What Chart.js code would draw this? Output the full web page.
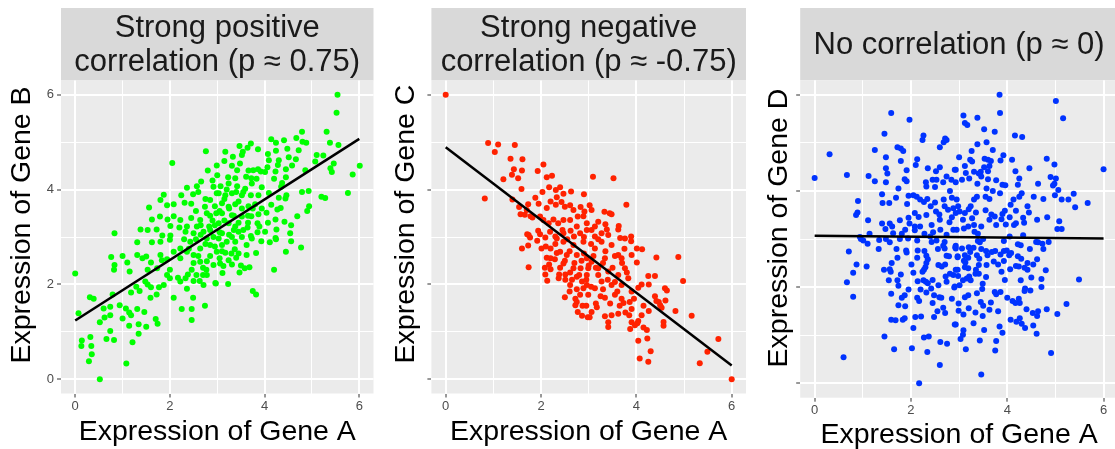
<!DOCTYPE html>
<html>
<head>
<meta charset="utf-8">
<script src="https://cdn.jsdelivr.net/npm/chart.js@4.4.0/dist/chart.umd.min.js"></script>
<style>
  html, body { margin: 0; background: #fff; overflow: hidden; }
  body { width: 1115px; height: 449px; position: relative; }
  canvas { position: absolute; top: 0; }
</style>
</head>
<body>
<canvas id="chart-positive" width="380" height="449" style="left:0px"></canvas>
<canvas id="chart-negative" width="370" height="449" style="left:380px"></canvas>
<canvas id="chart-none" width="370" height="449" style="left:752px"></canvas>
<script>
// values
const axisTicks = [0, 1, 2, 3, 4, 5, 6];
const fitX = [0, 6];
const fitB = [1.24, 5.07];
const fitC = [4.89, 0.29];
const fitD = [3.07, 3.01];

const positivePoints = [
  [2.76,4.81],[2.05,4.56],[2.99,4.51],[2.36,4.04],[2.57,4.07],[2.66,4.17],[2.90,4.19],[1.87,3.89],[1.80,3.78],[1.56,3.62],
  [1.94,3.67],[2.08,3.69],[2.24,3.88],[2.49,3.90],[2.31,3.72],[1.62,3.37],[1.79,3.43],[1.95,3.37],[2.08,3.44],[2.22,3.36],
  [1.38,3.16],[1.53,3.15],[1.72,3.16],[2.01,3.23],[0.83,3.08],[1.84,3.03],[2.01,3.03],[2.36,3.22],[2.64,3.36],[2.78,3.50],
  [2.74,3.64],[2.98,3.50],[2.85,3.78],[2.99,3.92],[2.92,4.06],[2.83,3.22],[2.50,3.08],[2.33,3.11],[2.57,3.22],[2.71,3.11],
  [2.92,3.00],[5.54,6.00],[5.52,5.62],[6.01,4.50],[5.86,4.32],[5.76,3.93],[4.79,5.22],[5.31,5.22],[5.38,4.99],[5.56,4.94],
  [4.67,5.09],[4.80,5.01],[4.88,4.99],[4.41,5.04],[4.24,4.99],[4.14,5.06],[3.71,4.97],[3.47,4.92],[3.17,4.80],[3.64,4.88],
  [3.54,4.80],[3.86,4.85],[4.07,4.75],[4.24,4.82],[4.48,4.86],[4.72,4.83],[5.10,4.73],[5.24,4.72],[5.07,4.59],[5.46,4.55],
  [5.39,4.45],[5.42,4.37],[4.86,4.41],[4.66,4.64],[4.51,4.68],[4.58,4.51],[4.45,4.43],[4.28,4.52],[4.30,4.62],[4.09,4.62],
  [4.06,4.47],[4.23,4.38],[4.45,4.26],[4.20,4.23],[4.37,4.14],[4.35,4.06],[4.46,3.88],[4.79,3.95],[4.93,3.97],[5.20,3.85],
  [5.28,3.82],[4.94,3.65],[4.90,3.55],[4.69,3.44],[4.56,3.25],[4.42,3.32],[4.23,3.37],[4.27,3.58],[4.34,3.61],[4.30,3.83],
  [4.44,3.81],[4.14,3.68],[4.04,3.51],[3.87,3.48],[3.72,3.44],[3.85,3.29],[3.89,3.22],[4.07,3.30],[4.01,3.11],[4.25,3.16],
  [4.54,3.08],[4.23,2.98],[3.64,3.20],[3.45,3.11],[3.71,3.02],[3.31,4.50],[3.42,4.41],[3.23,4.26],[3.38,4.24],[3.48,4.55],
  [3.52,4.73],[3.33,4.69],[3.66,4.40],[3.76,4.41],[3.86,4.43],[3.92,4.38],[4.01,4.37],[3.61,4.27],[3.72,4.24],[3.83,4.23],
  [3.07,4.07],[3.24,4.13],[3.42,4.07],[3.59,4.02],[3.73,4.13],[3.94,4.05],[3.87,3.88],[3.71,3.88],[3.52,3.88],[3.31,3.92],
  [3.17,3.88],[3.03,3.92],[4.09,3.93],[3.10,3.71],[3.24,3.64],[3.38,3.69],[3.52,3.60],[3.66,3.65],[3.80,3.69],[3.94,3.60],
  [3.10,3.50],[3.31,3.46],[3.52,3.43],[3.03,3.29],[3.24,3.29],[3.38,3.22],[3.10,3.08],[3.31,3.00],[3.52,3.00],
  [0.00,2.23],[0.07,1.39],[0.14,0.82],[0.13,0.70],[0.32,0.89],[0.34,0.70],[0.35,0.53],[0.29,0.38],[0.52,0.00],[1.08,0.33],
  [0.31,1.73],[0.39,1.70],[0.52,1.20],[0.62,1.30],[0.60,1.49],[0.74,1.53],[0.74,1.35],[0.79,1.79],[0.94,1.56],[0.74,1.02],
  [0.66,0.85],[0.82,0.83],[0.76,2.58],[0.83,2.41],[0.82,2.31],[1.00,2.60],[1.10,2.46],[1.15,2.27],[1.31,2.62],[1.07,1.49],
  [1.14,1.41],[1.18,1.35],[1.00,1.28],[1.31,1.48],[1.14,1.13],[1.34,1.16],[1.50,1.11],[1.34,0.96],[1.21,0.78],[1.18,1.83],
  [1.36,1.86],[1.29,1.95],[1.48,2.06],[1.53,2.00],[1.59,1.72],[1.72,1.79],[1.46,1.42],[1.70,1.27],[1.74,1.17],[1.60,1.94],
  [1.77,1.94],[1.87,1.99],[1.53,2.31],[1.60,2.46],[1.42,2.55],[1.50,2.59],[1.62,2.89],[1.80,2.90],[2.00,2.94],[1.83,2.51],
  [1.94,2.53],[2.00,2.31],[2.00,2.13],[2.08,1.72],[2.25,1.48],[2.46,1.48],[2.46,1.25],[2.74,1.55],[2.49,1.72],[2.36,1.91],
  [2.22,2.06],[2.33,2.13],[2.17,2.14],[2.38,2.21],[2.50,2.07],[2.63,2.07],[2.70,2.20],[2.78,2.20],[2.56,2.20],[2.97,2.02],
  [2.46,2.31],[2.77,2.31],[2.64,2.48],[2.78,2.49],[2.92,2.41],[2.50,2.62],[2.36,2.69],[2.22,2.76],[2.08,2.69],[2.64,2.76],
  [2.85,2.83],[2.99,2.69],[2.43,2.90],[2.78,2.97],[2.22,2.55],[1.80,2.62],[1.73,2.34],[1.94,2.20],[2.71,1.99],[1.31,2.89],
  [2.96,2.03],[3.23,2.01],[3.75,1.86],[3.82,1.79],[4.20,2.31],[3.47,2.25],[3.58,2.34],[3.68,2.36],[3.11,2.24],[3.06,2.44],
  [3.13,2.39],[3.24,2.51],[3.31,2.42],[3.40,2.56],[4.45,2.69],[4.77,2.78],[4.56,2.91],[4.24,2.95],[4.11,2.89],[3.93,2.91],
  [3.82,2.66],[3.62,2.62],[3.62,2.83],[3.45,2.65],[3.37,2.74],[3.17,2.67],[3.10,2.83],[3.38,2.90],[3.73,2.97],[3.03,2.97],
  [2.55,2.95],[2.65,3.05],[2.75,2.85],[2.85,3.15],[2.95,3.25],[3.05,3.10],[3.15,3.35],[3.25,3.05],[3.35,3.45],[3.45,3.30],
  [3.55,3.15],[3.65,3.45],[3.75,3.60],[3.85,3.10],[2.45,3.40],[2.55,3.55],[2.65,3.25],[2.75,3.80],[2.85,3.45],[2.95,3.65],
  [3.05,3.55],[3.15,3.80],[3.25,3.60],[3.35,3.15],[3.45,3.75],[3.55,3.95],[3.65,3.30],[2.40,2.75],[2.50,2.45],[2.60,2.60],
  [2.70,2.35],[2.85,2.60],[2.95,2.80],[3.05,2.55],[3.20,2.90],[3.30,2.65],[2.30,2.95],[2.20,3.20],[2.45,3.70],[2.60,3.95],
  [3.00,4.30],[3.20,4.00],[3.40,3.95],[2.90,3.35],[3.10,2.70],[3.50,2.40],[2.80,4.40],[3.15,4.60]
];

const negativePoints = [
  [0.00,6.00],[0.89,4.98],[1.10,4.95],[1.03,4.79],[1.45,4.94],[1.36,4.65],[1.61,4.64],[1.43,4.43],[1.39,4.31],[1.52,4.24],
  [1.60,4.40],[1.21,4.22],[1.93,4.39],[2.05,4.53],[2.12,4.26],[2.23,4.29],[1.59,4.01],[0.82,3.81],[1.40,3.79],[1.88,3.83],
  [2.17,4.05],[2.31,3.99],[2.40,4.05],[2.03,3.95],[2.33,3.84],[2.47,3.91],[2.63,3.96],[2.90,3.90],[1.73,3.69],[1.57,3.48],
  [1.66,3.47],[1.78,3.44],[1.54,3.63],[1.70,3.57],[1.95,3.70],[2.12,3.61],[2.20,3.75],[2.31,3.68],[2.43,3.74],[2.50,3.64],
  [2.61,3.67],[2.68,3.57],[2.83,3.63],[2.91,3.54],[1.71,3.06],[1.77,2.99],[1.94,3.13],[1.98,3.06],[2.09,2.99],[2.19,3.11],
  [2.30,3.01],[2.47,3.08],[2.62,3.13],[2.69,3.01],[2.82,3.08],[1.82,3.41],[1.98,3.43],[2.05,3.36],[2.16,3.29],[2.26,3.37],
  [2.36,3.29],[2.47,3.36],[2.61,3.36],[2.77,3.43],[2.89,3.44],[2.96,3.29],[2.75,3.22],[2.96,3.15],
  [3.09,4.27],[3.52,4.24],[3.79,3.68],[3.02,3.67],[3.06,3.57],[3.33,3.53],[3.44,3.50],[3.48,3.48],[3.20,3.32],[3.35,3.27],
  [3.13,3.22],[3.06,3.15],[3.27,3.08],[3.38,3.16],[3.63,3.23],[3.62,3.16],[3.66,2.98],[3.13,3.01],[3.89,3.01],
  [1.60,2.76],[1.73,2.82],[1.74,2.36],[1.74,3.04],[1.92,2.92],[2.01,2.76],[2.12,2.56],[2.08,2.35],[2.09,2.21],[2.13,2.08],
  [2.17,2.42],[2.20,2.32],[2.29,2.53],[2.33,2.66],[2.38,2.21],[2.37,2.13],[2.47,2.44],[2.51,2.21],[2.51,2.10],[2.61,2.25],
  [2.61,1.99],[2.50,1.73],[2.72,1.70],[2.75,1.63],[2.72,1.56],[2.77,1.42],[2.86,1.34],[2.87,1.55],[2.98,1.31],[2.89,1.92],
  [2.86,2.06],[2.75,2.16],[2.68,2.34],[2.83,2.34],[2.75,2.62],[2.54,2.62],[2.40,2.69],[2.20,2.76],[2.10,2.80],[2.68,2.83],
  [2.89,2.90],[2.96,2.55],[2.47,2.90],[2.33,2.97],[2.82,1.78],[2.96,2.20],[2.96,1.99],
  [4.42,2.57],[4.88,2.58],[4.98,2.07],[4.60,1.92],[4.64,1.87],[4.82,1.44],[5.16,1.34],[4.57,1.21],[4.57,1.13],[4.50,1.56],
  [4.47,1.63],[4.53,1.51],[4.39,1.75],[4.42,1.65],[4.61,1.66],[4.26,1.44],[4.26,2.00],[4.39,2.18],[4.25,2.18],[4.11,2.00],
  [4.04,1.93],[4.11,1.35],[4.04,1.23],[4.02,1.18],[3.90,1.20],[3.97,1.14],[3.87,1.06],[4.15,1.09],[4.22,1.04],[4.23,0.86],
  [4.04,0.81],[4.30,0.59],[4.07,0.44],[4.25,0.37],[5.33,0.34],[5.49,0.58],[5.72,0.85],[6.00,0.00],[3.41,1.20],[3.41,1.10],
  [3.06,1.42],[3.34,1.33],[3.48,1.35],[3.62,1.38],[3.77,1.41],[3.90,1.48],[3.86,1.63],[3.73,1.61],[3.69,1.70],[3.55,1.78],
  [3.34,1.72],[3.17,1.52],[3.02,1.31],[4.01,2.76],[3.89,2.91],[4.12,2.74],[4.01,2.46],[3.76,2.34],[3.62,2.62],[3.48,2.83],
  [3.27,2.90],[3.13,2.76],[3.06,2.48],[3.20,2.34],[3.41,2.27],[3.27,2.06],[3.13,1.92],[3.48,1.99],[3.69,1.99],[3.83,2.13],
  [3.90,1.85],[3.76,2.97],[3.41,3.04],[2.99,2.34],[2.99,1.78],[3.62,2.20],[3.34,2.55],[3.69,2.55],[3.90,2.62],
  [2.50,2.50],[2.60,2.70],[2.70,2.45],[2.80,2.20],[2.90,2.65],[3.00,2.40],[3.10,2.60],[3.20,2.20],[3.30,2.45],[3.40,2.10],
  [3.50,2.35],[3.55,2.05],[3.60,1.85],[3.70,2.45],[3.80,2.25],[2.55,2.95],[2.65,2.10],[2.75,1.90],[2.85,2.50],[2.95,2.10],
  [3.05,1.95],[3.15,2.35],[3.25,1.75],[3.35,2.70],[3.45,1.60],[3.55,2.60],[3.05,2.85],[2.90,3.00],[2.40,2.35],[2.30,2.85],
  [2.20,2.55],[3.15,1.60],[3.30,1.90],[3.65,1.55],[3.95,1.70],[2.95,1.55],[2.60,1.85],[3.75,2.75],[3.20,2.95],[2.45,3.15],
  [3.85,1.35],[4.15,1.55]
];

const nonePoints = [
  [0.00,4.27],[0.31,4.76],[0.67,4.33],[1.59,5.62],[1.97,5.48],[1.45,5.19],[1.25,4.85],[1.72,4.91],[1.79,4.88],[1.84,4.83],
  [2.26,5.15],[2.24,5.06],[2.71,5.09],[2.74,5.06],[2.68,5.01],[2.60,4.91],[1.48,4.70],[1.79,4.62],[2.13,4.66],[2.10,4.54],
  [1.48,4.47],[1.51,4.36],[1.91,4.43],[2.35,4.47],[2.52,4.41],[2.60,4.49],[2.93,4.44],[1.12,4.31],[1.25,4.20],[1.48,4.18],
  [1.87,4.24],[1.91,4.20],[1.74,4.05],[2.31,4.18],[2.32,4.09],[2.45,4.23],[2.53,4.23],[2.50,4.08],[2.67,4.18],[2.74,4.30],
  [2.84,4.23],[2.93,4.18],[1.40,3.93],[1.69,3.86],[1.95,3.90],[2.05,3.91],[2.12,3.88],[2.19,3.82],[2.27,3.77],[2.34,3.83],
  [2.50,3.76],[2.68,3.82],[2.81,4.00],[2.85,3.86],[2.95,3.82],[0.90,3.79],[1.41,3.75],[1.55,3.75],[1.92,3.73],[0.89,3.55],
  [0.86,3.50],[1.11,3.39],[1.40,3.32],[1.56,3.32],[1.61,3.26],[1.77,3.39],[1.95,3.44],[2.08,3.54],[2.16,3.46],[2.32,3.50],
  [2.41,3.68],[2.52,3.57],[2.59,3.51],[2.70,3.68],[2.77,3.61],[2.88,3.64],[2.93,3.54],[2.60,3.40],[2.43,3.29],[2.19,3.26],
  [1.97,3.32],[2.08,3.26],[1.88,3.19],[1.47,3.21],[1.63,3.12],[1.81,3.11],[2.08,3.18],[2.28,3.11],[2.46,3.14],[2.61,3.19],
  [2.74,3.09],[2.88,3.19],[0.94,3.04],[1.14,3.11],
  [3.84,6.00],[5.01,5.87],[3.85,5.62],[5.16,5.51],[3.09,5.57],[3.12,5.41],[3.17,5.37],[3.38,5.52],[3.52,5.28],[3.74,5.23],
  [4.16,5.15],[4.31,5.12],[3.38,4.97],[3.57,5.01],[3.26,4.83],[3.70,4.85],[3.92,4.74],[3.86,4.63],[3.23,4.65],[3.27,4.61],
  [3.53,4.67],[3.60,4.65],[3.66,4.62],[3.63,4.52],[3.52,4.49],[3.60,4.41],[3.45,4.40],[3.12,4.52],[2.91,4.44],[3.14,4.37],
  [3.31,4.40],[3.41,4.36],[3.06,4.23],[3.21,4.26],[3.46,4.30],[3.60,4.24],[3.77,4.22],[4.17,4.41],[4.46,4.47],[4.25,4.26],
  [4.22,4.13],[3.90,4.13],[3.96,4.12],[3.38,4.15],[3.57,4.05],[4.82,4.67],[4.98,4.55],[4.90,4.29],[5.01,4.26],[4.98,4.15],
  [4.95,4.11],[4.64,4.15],[6.00,4.45],[5.06,4.02],[4.99,3.91],[5.13,3.82],[5.27,3.82],[5.38,3.94],[5.41,3.66],[5.67,3.75],
  [4.75,3.83],[4.55,3.88],[4.42,3.68],[4.25,3.88],[4.13,3.82],[4.07,3.71],[4.18,3.59],[3.95,3.59],[3.90,3.52],[3.67,3.51],
  [3.74,3.47],[3.63,3.83],[3.55,3.88],[3.37,3.88],[3.31,3.82],[3.24,3.68],[3.20,3.62],[2.98,3.68],[3.01,3.57],[3.12,3.54],
  [3.08,3.40],[4.62,3.40],[4.83,3.45],[4.33,3.44],[4.35,3.34],[4.18,3.33],[4.14,3.29],[3.97,3.30],[3.88,3.41],[3.77,3.29],
  [3.63,3.40],[3.46,3.26],[3.31,3.29],[3.27,3.43],[3.19,3.26],[3.10,3.22],[2.95,3.19],[3.32,3.15],[3.39,3.11],[5.04,3.21],
  [5.13,3.21],[5.08,3.37],[4.33,3.08],
  [0.71,2.74],[0.87,2.47],[0.80,2.30],[1.08,2.43],[0.67,2.10],[0.80,1.80],[0.60,0.54],[1.45,0.97],[1.65,0.71],[2.02,0.73],
  [2.17,0.00],[2.34,0.65],[2.60,0.38],[2.27,0.95],[2.37,0.97],[2.61,0.86],[2.75,0.82],[1.59,1.32],[1.68,1.31],[1.83,1.32],
  [1.87,1.35],[2.09,1.38],[2.21,1.39],[2.48,1.38],[2.93,1.22],[1.74,1.62],[1.88,1.60],[1.81,1.78],[1.87,1.83],[1.59,1.86],
  [2.13,1.78],[2.17,1.71],[2.32,1.89],[2.45,1.67],[2.48,1.83],[2.59,1.79],[2.63,1.78],[2.67,1.57],[2.71,1.46],[2.85,1.76],
  [2.99,1.66],[2.20,1.95],[2.31,2.11],[2.35,2.08],[2.42,1.97],[2.57,2.04],[2.74,2.11],[2.90,1.99],[1.54,2.14],[1.72,2.14],
  [1.74,2.03],[1.79,2.26],[1.44,2.36],[1.56,2.37],[1.58,2.32],[2.14,2.12],[2.26,2.14],[1.33,2.79],[1.56,2.93],[1.70,2.79],
  [1.90,2.76],[1.91,2.72],[1.72,2.61],[2.01,2.47],[2.14,2.76],[2.28,2.75],[2.13,2.61],[2.32,2.65],[2.35,2.58],[2.32,2.50],
  [2.30,2.41],[2.27,2.36],[2.24,2.32],[2.56,2.79],[2.67,2.86],[2.70,2.80],[2.74,2.65],[2.79,2.64],[2.93,2.86],[2.93,2.80],
  [2.97,2.64],[2.57,2.46],[2.64,2.43],[2.71,2.47],[2.93,2.36],[2.88,2.25],[2.81,2.28],[2.72,2.22],[0.96,3.00],[1.01,2.97],
  [1.10,2.90],[1.34,2.98],[1.48,3.00],[1.77,3.00],[1.94,3.01],[2.13,2.97],[2.43,2.94],[2.53,2.97],[2.70,2.94],
  [5.49,2.16],[5.23,1.65],[5.04,1.44],[4.91,0.63],[3.46,0.18],[3.14,0.71],[3.75,0.68],[3.77,0.88],[3.43,0.89],[3.52,1.11],
  [3.03,0.92],[3.08,1.01],[3.09,1.10],[3.30,1.25],[2.91,1.22],[3.84,1.18],[4.07,1.32],[4.19,1.28],[4.26,1.35],[4.30,1.24],
  [4.37,1.15],[4.54,1.20],[4.61,1.03],[2.99,1.51],[3.09,1.43],[3.20,1.56],[3.34,1.47],[3.49,1.40],[3.63,1.53],[3.81,1.50],
  [3.45,1.69],[3.50,1.61],[3.66,1.68],[4.26,1.67],[4.11,1.71],[4.17,1.67],[4.24,1.76],[4.40,1.54],[4.53,1.46],[4.62,1.40],
  [4.64,1.50],[4.82,1.54],[4.00,1.78],[3.74,1.90],[3.77,1.85],[3.86,1.90],[4.37,1.97],[4.36,1.92],[4.48,1.93],[4.71,2.17],
  [4.71,2.00],[4.28,2.14],[3.48,1.96],[3.49,2.07],[3.37,1.87],[3.19,1.83],[3.12,1.79],[2.91,2.01],[3.01,2.04],[3.08,2.14],
  [2.98,2.23],[3.16,2.18],[3.21,2.22],[3.24,2.14],[3.34,2.28],[3.41,2.28],[3.56,2.21],[3.88,2.32],[4.06,2.37],[4.18,2.44],
  [4.24,2.43],[4.36,2.40],[4.42,2.36],[4.42,2.50],[4.54,2.47],[4.62,2.58],[3.93,2.54],[3.72,2.53],[3.81,2.47],[3.57,2.46],
  [3.41,2.46],[3.35,2.36],[3.19,2.39],[3.12,2.41],[2.97,2.36],[4.29,2.59],[4.22,2.64],[4.47,2.79],[4.64,2.93],[4.73,2.90],
  [4.75,2.79],[4.60,2.94],[4.86,2.94],[4.22,2.89],[4.28,2.87],[4.04,2.66],[4.08,2.71],[3.99,2.76],[3.93,2.75],[3.86,2.68],
  [3.75,2.75],[3.68,2.73],[3.59,2.66],[3.56,2.75],[3.46,2.79],[3.42,2.59],[3.37,2.66],[3.23,2.73],[3.19,2.61],[3.12,2.66],
  [3.10,2.55],[3.13,2.51],[2.97,2.62],[3.93,2.96],[3.43,2.93],[3.39,2.96],[3.06,2.80],[3.20,2.83],[3.30,2.82],[2.92,2.83],
  [2.40,3.05],[2.85,3.45],[3.55,3.60],[3.85,3.95],[4.05,3.45],[4.45,3.55],[3.35,3.55],[2.45,2.15],[2.05,2.30],[1.95,1.95],
  [2.55,1.50],[3.95,2.15],[4.50,2.20],[4.05,3.05],[3.50,3.00],[2.80,3.35],[3.70,4.00],[4.30,3.95],[1.60,2.50],[2.05,1.15],
  [3.90,1.05],[4.80,2.35],[4.10,4.65],[3.00,4.70]
];

const FONT = "'Liberation Sans', Arial, sans-serif";

const stripPlugin = {
  id: 'strip',
  beforeDraw(chart, args, opts) {
    const { ctx, chartArea } = chart;
    ctx.save();
    ctx.fillStyle = '#d9d9d9';
    ctx.fillRect(chartArea.left, opts.top, chartArea.right - chartArea.left, chartArea.top - opts.top);
    ctx.fillStyle = '#ebebeb';
    ctx.fillRect(chartArea.left, chartArea.top, chartArea.right - chartArea.left, chartArea.bottom - chartArea.top);
    ctx.fillStyle = '#1a1a1a';
    ctx.font = opts.size + 'px ' + FONT;
    ctx.textAlign = 'center';
    ctx.textBaseline = 'middle';
    const cx = (chartArea.left + chartArea.right) / 2;
    const mid = (opts.top + chartArea.top) / 2 + 1;
    const n = opts.lines.length;
    opts.lines.forEach((line, i) => {
      ctx.fillText(line, cx, mid + (i - (n - 1) / 2) * opts.lineGap);
    });
    ctx.restore();
  },
  afterDraw(chart, args, opts) {
    // y title sits a little above the panel centre in the reference
    const { ctx } = chart;
    ctx.save();
    ctx.translate(opts.yTitleX, opts.yTitleY);
    ctx.rotate(-Math.PI / 2);
    ctx.fillStyle = '#000000';
    ctx.font = '28.5px ' + FONT;
    ctx.textAlign = 'center';
    ctx.textBaseline = 'middle';
    ctx.fillText(opts.yTitle, 0, 0);
    ctx.restore();
  }
};

const isMajor = (ctx) => ctx.tick && ctx.tick.value % 2 === 0;

function axis(title, opts) {
  return {
    type: 'linear',
    min: -0.3,
    max: 6.3,
    afterBuildTicks: (scale) => {
      scale.ticks = axisTicks.map((v) => ({ value: v }));
    },
    afterFit: opts.fit,
    ticks: {
      display: opts.labels,
      callback: (v) => (v % 2 === 0 ? String(v) : ''),
      color: '#4d4d4d',
      font: { family: FONT, size: 13 },
      padding: opts.tickPad,
      autoSkip: false,
      maxRotation: 0
    },
    grid: {
      color: '#ffffff',
      lineWidth: (ctx) => (isMajor(ctx) ? 2 : 1),
      tickLength: 4,
      tickWidth: 1,
      tickColor: (ctx) => (isMajor(ctx) ? '#333333' : 'rgba(0,0,0,0)')
    },
    border: { display: false },
    title: {
      display: title !== '',
      text: title,
      color: '#000000',
      font: { family: FONT, size: 28.5, lineHeight: 1 },
      padding: opts.titlePad
    }
  };
}

function makePanel(id, cfg) {
  const fitLine = fitX.map((x, i) => ({ x, y: cfg.fit[i] }));
  return new Chart(document.getElementById(id), {
    type: 'scatter',
    data: {
      datasets: [
        {
          data: fitLine,
          showLine: true,
          borderColor: '#000000',
          borderWidth: 2.5,
          pointRadius: 0
        },
        {
          data: cfg.points.map(([x, y]) => ({ x, y })),
          backgroundColor: cfg.color,
          borderWidth: 0,
          pointRadius: 3
        }
      ]
    },
    options: {
      responsive: false,
      animation: false,
      layout: { padding: { top: cfg.top, right: cfg.right, left: 0, bottom: 0 } },
      plugins: {
        legend: { display: false },
        tooltip: { enabled: false },
        strip: {
          top: 8, lines: cfg.strip, size: 31, lineGap: 34,
          yTitle: cfg.yTitle, yTitleX: cfg.yTitleX, yTitleY: cfg.yTitleY
        }
      },
      scales: {
        x: axis('Expression of Gene A', {
          labels: true,
          tickPad: 1,
          titlePad: { top: 0, bottom: cfg.xTitlePad },
          fit: (s) => { s.height = cfg.xHeight; }
        }),
        y: axis('', {
          labels: cfg.yLabels,
          tickPad: 3,
          titlePad: 0,
          fit: (s) => { s.width = cfg.yWidth; }
        })
      }
    },
    plugins: [stripPlugin]
  });
}

makePanel('chart-positive', {
  points: positivePoints, fit: fitB, color: '#00ff00',
  strip: ['Strong positive', 'correlation (p \u2248 0.75)'],
  yTitle: 'Expression of Gene B', yLabels: true, yTitleX: 22, yTitleY: 225,
  top: 80.5, right: 6.5, yWidth: 61, xHeight: 55.5, xTitlePad: 3
});

makePanel('chart-negative', {
  points: negativePoints, fit: fitC, color: '#ff2200',
  strip: ['Strong negative', 'correlation (p \u2248 -0.75)'],
  yTitle: 'Expression of Gene C', yLabels: false, yTitleX: 26, yTitleY: 224,
  top: 80.5, right: 4, yWidth: 51.4, xHeight: 55.5, xTitlePad: 3
});

makePanel('chart-none', {
  points: nonePoints, fit: fitD, color: '#0033ff',
  strip: ['No correlation (p \u2248 0)'],
  yTitle: 'Expression of Gene D', yLabels: false, yTitleX: 27, yTitleY: 228,
  top: 80.3, right: 3.2, yWidth: 48.2, xHeight: 51.3, xTitlePad: 0
});
</script>
</body>
</html>
